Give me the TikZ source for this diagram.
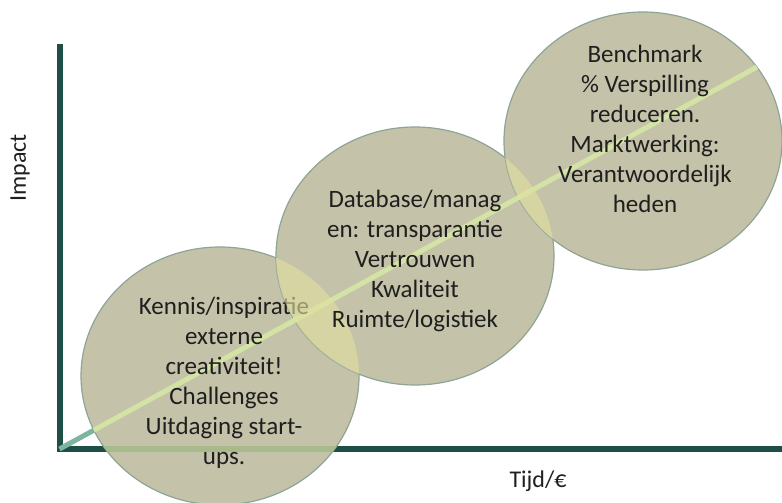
\documentclass[tikz,border=0pt]{standalone}
\usepackage{fontspec}
\setmainfont{Carlito}
\usetikzlibrary{shapes}
\definecolor{axisGreen}{RGB}{31,78,70}
\definecolor{axisLight}{RGB}{167,186,139}
\definecolor{bubbleFill}{RGB}{196,194,168}
\definecolor{bubbleEdge}{RGB}{141,165,150}
\definecolor{overlapFill}{RGB}{226,224,160}
\definecolor{trendTeal}{RGB}{125,181,162}
\definecolor{trendLight}{RGB}{211,227,166}

\begin{document}
\begin{tikzpicture}[x = 1pt, y = -1pt]
	\tikzstyle{bubbleStyle}=[shape = ellipse, minimum width = 278pt, minimum height = 258pt, inner sep = 0pt, fill = bubbleFill, draw = bubbleEdge, line width = 1.2pt]
	\tikzstyle{bubbleText}=[align = center, text = black!88, font = \fontsize{25}{30}\selectfont]
	\tikzstyle{axisLabel}=[text = black!88, font = \fontsize{24}{28}\selectfont]
	\tikzstyle{axisStyle}=[line width = 6pt, draw = axisGreen]
	\tikzstyle{trendStyle}=[line width = 5pt]
	\useasboundingbox (0,0) rectangle (782,503);
	\clip (0,0) rectangle (782,503);
	% axes
	\coordinate (o) at (59.5,449);
	\coordinate (ytop) at (59.5,44);
	\coordinate (xend) at (782,449);
	\coordinate (tend) at (757,67);
	\draw[axisStyle] (ytop) -- (o) -- (xend);
	\draw[trendStyle, trendTeal] (o) -- (tend);
	\node[axisLabel, rotate = 90] (impact) at (20,168) {Impact};
	\node[axisLabel] (tijd) at (538,481) {Tijd/€};
	% bubbles
	\node[bubbleStyle] (c1) at (220,376) {};
	\node[bubbleStyle] (c2) at (415,256) {};
	\node[bubbleStyle] (c3) at (643,141) {};
	% trend line inside the bubbles
	\foreach \c in {c1, c2, c3} {
		\begin{scope}
			\clip (\c.center) ellipse [x radius = 139pt, y radius = 129pt];
			\draw[trendStyle, trendLight] (o) -- (tend);
		\end{scope}
	}
	\begin{scope}
		\clip (c1.center) ellipse [x radius = 139pt, y radius = 129pt];
		\draw[line width = 6pt, axisLight] (o) -- (xend);
	\end{scope}
	\node[bubbleText] (t1) at (224,383) {Kennis/inspiratie\\externe\\creativiteit!\\Challenges\\Uitdaging start-\\ups.};
	% overlaps
	\begin{scope}
		\clip (c1.center) ellipse [x radius = 139pt, y radius = 129pt];
		\fill[overlapFill, opacity = 0.62] (c2.center) ellipse [x radius = 139pt, y radius = 129pt];
	\end{scope}
	\begin{scope}
		\clip (c2.center) ellipse [x radius = 139pt, y radius = 129pt];
		\fill[overlapFill, opacity = 0.62] (c3.center) ellipse [x radius = 139pt, y radius = 129pt];
	\end{scope}
	\node[bubbleText] (t2) at (415,261) {Database/manag\\en: transparantie\\Vertrouwen\\Kwaliteit\\Ruimte/logistiek};
	\node[bubbleText] (t3) at (645,129) {Benchmark\\\% Verspilling\\reduceren.\\Marktwerking:\\Verantwoordelijk\\heden};
\end{tikzpicture}
\end{document}
